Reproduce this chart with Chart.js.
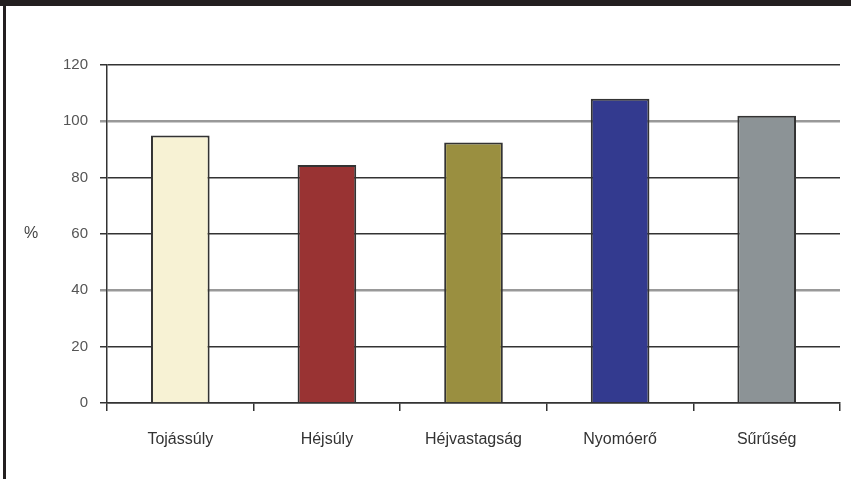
<!DOCTYPE html>
<html>
<head>
<meta charset="utf-8">
<script src="https://cdn.jsdelivr.net/npm/chart.js@4/dist/chart.umd.min.js"></script>
<style>
  body { margin: 0; background: #fff; }
  #wrap { position: relative; width: 851px; height: 479px; overflow: hidden; }
  #topband { position: absolute; left: 0; top: 0; width: 851px; height: 6px; background: #231f20; }
  #leftband { position: absolute; left: 3px; top: 0; width: 3px; height: 479px; background: #231f20; }
  #container { position: absolute; left: 0; top: 0; }
</style>
</head>
<body>
<div id="wrap">
  <canvas id="container" width="851" height="479"></canvas>
  <div id="topband"></div>
  <div id="leftband"></div>
</div>
<script>
var categories = ["Tojássúly", "Héjsúly", "Héjvastagság", "Nyomóerő", "Sűrűség"]
var values = [95, 84.5, 92.5, 108, 102]
var barColors = ["#f7f2d4", "#993333", "#9a8f40", "#333a8f", "#8c9396"]
var yTicks = [0, 20, 40, 60, 80, 100, 120]
var yTitle = "%"

var percentLabel = {
  id: "percentLabel",
  afterDraw: function(chart) {
    var ctx = chart.ctx
    var area = chart.chartArea
    ctx.save()
    ctx.fillStyle = "#444"
    ctx.font = "16px 'Liberation Sans', Arial, sans-serif"
    ctx.textAlign = "center"
    ctx.textBaseline = "middle"
    ctx.fillText(yTitle, 31, (area.top + area.bottom) / 2)
    ctx.restore()
  }
}

function gridColor(context) {
  var v = context.tick ? context.tick.value : 0
  if (v == 40 || v == 100) {
    return "#999"
  }
  return "#333"
}

function gridWidth(context) {
  var v = context.tick ? context.tick.value : 0
  if (v == 40 || v == 100) {
    return 2.5
  }
  return 1.5
}

function renderBarChart() {
  var container = document.getElementById("container")
  var chart = new Chart(container, {
    type: "bar",
    data: {
      labels: categories,
      datasets: [{
        data: values,
        backgroundColor: barColors,
        borderColor: "#333",
        borderWidth: 2,
        barPercentage: 0.4,
        categoryPercentage: 1
      }]
    },
    options: {
      responsive: false,
      animation: false,
      layout: {
        padding: { left: 0, right: 11, top: 65, bottom: 0 }
      },
      plugins: {
        legend: { display: false },
        tooltip: { enabled: false }
      },
      scales: {
        x: {
          offset: true,
          grid: {
            offset: true,
            drawOnChartArea: false,
            drawTicks: true,
            tickLength: 8,
            color: "#333",
            lineWidth: 1.5
          },
          border: { color: "#333", width: 1.5 },
          ticks: {
            padding: 19,
            color: "#333",
            font: { family: "'Liberation Sans', Arial, sans-serif", size: 16 },
            maxRotation: 0
          },
          afterFit: function(scale) {
            scale.height = 76
          }
        },
        y: {
          min: 0,
          max: 120,
          afterBuildTicks: function(scale) {
            scale.ticks = yTicks.map(function(v) { return { value: v } })
          },
          grid: {
            color: gridColor,
            lineWidth: gridWidth,
            drawTicks: true,
            tickLength: 7
          },
          border: { color: "#333", width: 1.5 },
          ticks: {
            padding: 12,
            color: "#555",
            font: { family: "'Liberation Sans', Arial, sans-serif", size: 15 }
          },
          afterFit: function(scale) {
            scale.width = 107
          }
        }
      }
    },
    plugins: [percentLabel]
  })
}

renderBarChart()
</script>
</body>
</html>
